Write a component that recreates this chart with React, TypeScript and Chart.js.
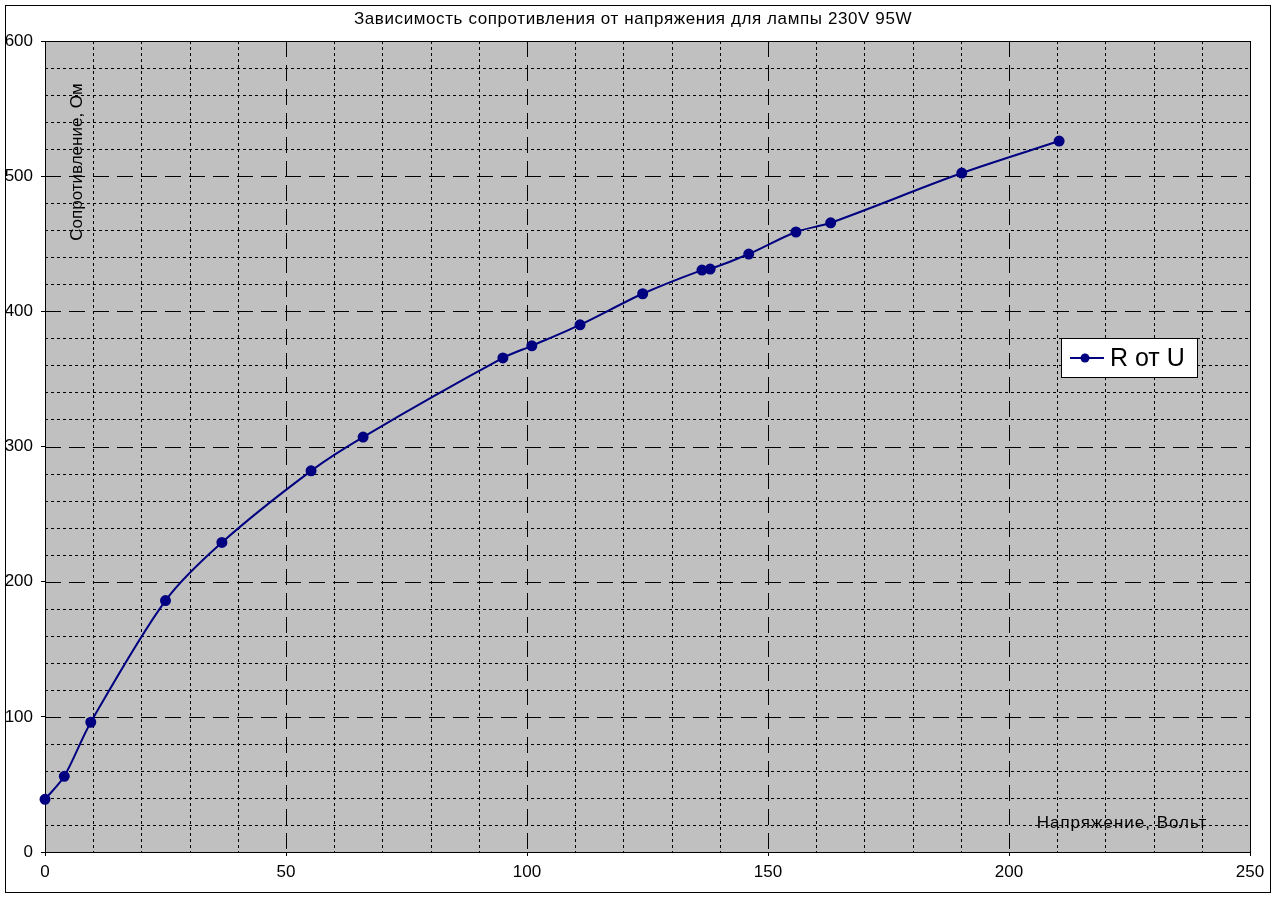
import { useEffect, useRef } from "react";
import { Chart, registerables } from "chart.js";

Chart.register(...registerables);

const chartTitle = "Зависимость сопротивления от напряжения для лампы 230V 95W";
const xAxisTitle = "Напряжение, Вольт";
const yAxisTitle = "Сопротивление, Ом";
const seriesLabel = "R от U";

const voltage = [0, 4, 9.5, 25, 36.7, 55.2, 66, 95, 101, 111, 124, 136.3, 138, 146, 155.8, 163, 190.2, 210.4];
const resistance = [39, 56, 96, 186, 229, 282, 307, 365.5, 374.5, 390, 413, 430.5, 431.3, 442.4, 458.7, 465.5, 502.3, 526];

const xMajorTicks = [0, 50, 100, 150, 200, 250];
const xMinorTicks = [10, 20, 30, 40, 60, 70, 80, 90, 110, 120, 130, 140, 160, 170, 180, 190, 210, 220, 230, 240];
const yMajorTicks = [0, 100, 200, 300, 400, 500, 600];
const yMinorTicks = [20, 40, 60, 80, 120, 140, 160, 180, 220, 240, 260, 280, 320, 340, 360, 380, 420, 440, 460, 480, 520, 540, 560, 580];

const FONT = 'Arial, "Liberation Sans", sans-serif';
const NAVY = "#000080";

const framePlugin = {
  id: "frame",
  beforeDraw(chart: any) {
    const { ctx, width, height } = chart;
    ctx.save();
    ctx.fillStyle = "#ffffff";
    ctx.fillRect(0, 0, width, height);
    ctx.strokeStyle = "#000";
    ctx.lineWidth = 1;
    ctx.strokeRect(5.5, 5.5, width - 13, height - 12);
    ctx.fillStyle = "#000";
    ctx.font = `17px ${FONT}`;
    (ctx as any).letterSpacing = "0.6px";
    ctx.textAlign = "center";
    ctx.textBaseline = "middle";
    ctx.fillText(chartTitle, width / 2 - 6, 19);
    ctx.restore();
  },
  beforeDatasetsDraw(chart: any) {
    const { ctx, chartArea, scales } = chart;
    const { left, top, right, bottom } = chartArea;
    const x = scales.x;
    const y = scales.y;
    ctx.save();
    ctx.fillStyle = "#C0C0C0";
    ctx.fillRect(left, top, right - left, bottom - top);
    ctx.strokeStyle = "#000";
    ctx.lineWidth = 1;
    // minor
    ctx.setLineDash([3, 3]);
    for (const v of xMinorTicks) {
      const px = Math.round(x.getPixelForValue(v)) + 0.5;
      ctx.beginPath();
      ctx.moveTo(px, top);
      ctx.lineTo(px, bottom);
      ctx.stroke();
    }
    for (const v of yMinorTicks) {
      const py = Math.round(y.getPixelForValue(v)) + 0.5;
      ctx.beginPath();
      ctx.moveTo(left, py);
      ctx.lineTo(right, py);
      ctx.stroke();
    }
    // major
    ctx.setLineDash([16, 8]);
    for (const v of xMajorTicks) {
      const px = Math.round(x.getPixelForValue(v)) + 0.5;
      ctx.beginPath();
      ctx.moveTo(px, top);
      ctx.lineTo(px, bottom);
      ctx.stroke();
    }
    for (const v of yMajorTicks) {
      const py = Math.round(y.getPixelForValue(v)) + 0.5;
      ctx.beginPath();
      ctx.moveTo(left, py);
      ctx.lineTo(right, py);
      ctx.stroke();
    }
    ctx.setLineDash([]);
    ctx.strokeRect(Math.round(left) + 0.5, Math.round(top) + 0.5, Math.round(right - left), Math.round(bottom - top));

    // axis titles inside plot
    ctx.fillStyle = "#000";
    ctx.font = `17px ${FONT}`;
    ctx.textAlign = "center";
    ctx.textBaseline = "middle";
    (ctx as any).letterSpacing = "1px";
    ctx.fillText(xAxisTitle, right - 128, bottom - 29);
    (ctx as any).letterSpacing = "0px";
    ctx.save();
    ctx.translate(left + 32, top + 121);
    ctx.rotate(-Math.PI / 2);
    ctx.fillText(yAxisTitle, 0, 0);
    ctx.restore();
    ctx.restore();
  },
  afterDraw(chart: any) {
    const { ctx, chartArea } = chart;
    const ds = chart.data.datasets[0];
    const lx = chartArea.right - 189;
    const ly = chartArea.top + 297;
    const w = 136;
    const h = 39;
    ctx.save();
    ctx.fillStyle = "#fff";
    ctx.fillRect(lx, ly, w, h);
    ctx.strokeStyle = "#000";
    ctx.lineWidth = 1;
    ctx.strokeRect(lx + 0.5, ly + 0.5, w, h);
    const cy = ly + h / 2 + 0.5;
    ctx.strokeStyle = ds.borderColor;
    ctx.lineWidth = 2;
    ctx.beginPath();
    ctx.moveTo(lx + 9, cy);
    ctx.lineTo(lx + 43, cy);
    ctx.stroke();
    ctx.fillStyle = ds.pointBackgroundColor;
    ctx.beginPath();
    ctx.arc(lx + 24, cy, 4.5, 0, Math.PI * 2);
    ctx.fill();
    ctx.fillStyle = "#000";
    ctx.font = `25px ${FONT}`;
    ctx.textAlign = "left";
    ctx.textBaseline = "middle";
    ctx.fillText(ds.label, lx + 49, cy + 1);
    ctx.restore();
  },
};

export default function App() {
  const canvasRef = useRef<HTMLCanvasElement | null>(null);

  useEffect(() => {
    if (!canvasRef.current) return;
    const chart = new Chart(canvasRef.current, {
      type: "line",
      data: {
        datasets: [
          {
            label: seriesLabel,
            data: voltage.map((v, i) => ({ x: v, y: resistance[i] })),
            borderColor: NAVY,
            backgroundColor: NAVY,
            pointBackgroundColor: NAVY,
            pointBorderColor: NAVY,
            borderWidth: 2,
            pointRadius: 4.5,
            tension: 0.3,
            clip: false as any,
          },
        ],
      },
      options: {
        animation: false,
        responsive: false,
        layout: { padding: { top: 41, right: 28, left: 0, bottom: 0 } },
        plugins: {
          legend: { display: false },
          title: { display: false },
          tooltip: { enabled: false },
        },
        scales: {
          x: {
            type: "linear",
            min: 0,
            max: 250,
            afterFit: (s: any) => {
              s.height = 47;
            },
            afterBuildTicks: (s: any) => {
              s.ticks = xMajorTicks.map((v) => ({ value: v }));
            },
            ticks: { color: "#000", font: { family: FONT, size: 17 }, padding: 6, maxRotation: 0 },
            grid: { drawOnChartArea: false, drawTicks: true, tickLength: 4, color: "#000" },
            border: { display: false },
          },
          y: {
            type: "linear",
            min: 0,
            max: 600,
            afterFit: (s: any) => {
              s.width = 45;
            },
            afterBuildTicks: (s: any) => {
              s.ticks = yMajorTicks.map((v) => ({ value: v }));
            },
            ticks: { color: "#000", font: { family: FONT, size: 17 }, padding: 8 },
            grid: { drawOnChartArea: false, drawTicks: true, tickLength: 4, color: "#000" },
            border: { display: false },
          },
        },
      },
      plugins: [framePlugin],
    });
    return () => chart.destroy();
  }, []);

  return (
    <div style={{ position: "fixed", left: 0, top: 0, width: 1278, height: 899 }}>
      <canvas ref={canvasRef} width={1278} height={899} style={{ display: "block" }} />
    </div>
  );
}
